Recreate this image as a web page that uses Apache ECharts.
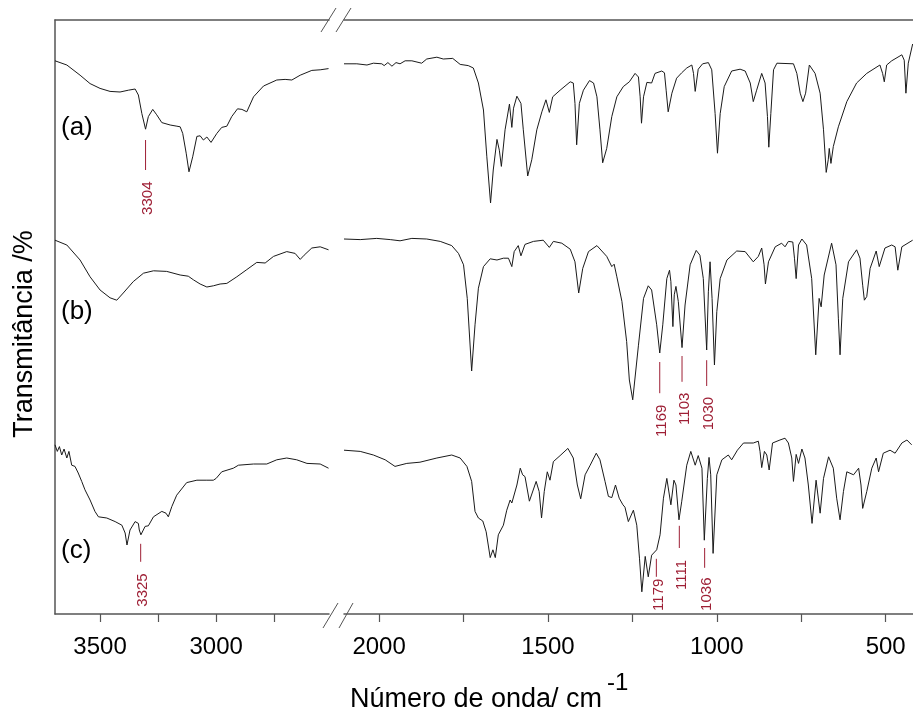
<!DOCTYPE html>
<html>
<head>
<meta charset="utf-8">
<script src="https://cdn.jsdelivr.net/npm/echarts@6/dist/echarts.min.js"></script>
<style>
html, body { margin: 0; padding: 0; background: #fff; }
#ftir { width: 913px; height: 718px; }
</style>
</head>
<body>
<div id="ftir"></div>
<script>
// espectros: [numero de onda, transmitancia (escala relativa, deslocada)]
var specA_hi = [[3694,92.2],[3643,91.5],[3586,89.8],[3543,88.4],[3500,87.6],[3457,87.1],[3414,87.0],[3378,87.3],[3349,87.5],[3335,86.5],[3320,83.4],[3304,80.8],[3292,82.9],[3273,84.1],[3256,83.2],[3234,81.9],[3198,81.5],[3169,81.3],[3155,81.2],[3144,80.1],[3129,76.8],[3117,73.7],[3101,76.2],[3083,79.6],[3069,79.7],[3055,79.0],[3040,79.5],[3022,78.6],[2997,80.1],[2976,81.1],[2954,81.3],[2933,82.9],[2908,84.2],[2889,84.1],[2868,83.7],[2839,86.2],[2796,88.0],[2739,89.0],[2703,89.1],[2674,89.0],[2638,89.8],[2588,90.6],[2552,90.7],[2516,90.9]];
var specA_lo = [[2104,91.7],[2066,91.7],[2036,91.5],[2017,91.8],[1992,91.7],[1985,91.4],[1974,91.9],[1962,91.3],[1950,91.9],[1938,91.7],[1923,92.2],[1903,92.2],[1874,91.8],[1859,92.5],[1829,92.8],[1810,92.5],[1782,92.6],[1760,91.6],[1736,91.4],[1721,91.0],[1706,88.5],[1691,84.0],[1681,76.2],[1670,68.5],[1662,74.0],[1651,79.1],[1644,77.3],[1638,74.6],[1627,80.7],[1614,85.0],[1607,81.1],[1602,84.3],[1592,86.3],[1580,85.1],[1573,80.7],[1560,73.0],[1548,75.7],[1533,80.7],[1518,83.7],[1506,85.7],[1496,83.6],[1486,86.2],[1464,87.3],[1434,88.7],[1425,88.5],[1420,85.1],[1415,78.2],[1407,85.1],[1395,87.3],[1377,88.9],[1365,88.5],[1355,86.2],[1346,80.7],[1338,75.2],[1326,77.6],[1311,82.9],[1296,86.2],[1277,87.9],[1259,88.7],[1242,90.1],[1232,89.5],[1227,86.2],[1223,81.8],[1217,86.2],[1207,88.6],[1193,88.5],[1183,90.1],[1163,90.5],[1155,90.2],[1150,87.3],[1144,83.7],[1133,86.8],[1119,89.3],[1104,90.2],[1089,91.0],[1074,91.5],[1069,90.1],[1064,87.1],[1055,90.8],[1042,91.7],[1025,91.9],[1015,90.7],[1005,83.4],[998,76.8],[990,83.4],[978,87.9],[956,90.5],[931,90.8],[916,90.5],[901,88.5],[892,85.4],[882,87.3],[867,90.1],[857,88.5],[850,82.9],[846,77.8],[840,83.4],[832,90.7],[822,91.8],[773,91.7],[763,90.1],[753,86.8],[745,85.4],[737,86.8],[726,91.5],[709,90.1],[694,86.8],[684,80.7],[676,73.6],[670,75.7],[667,77.6],[662,75.1],[655,77.9],[640,81.2],[615,85.4],[586,88.5],[556,90.1],[517,91.5],[509,90.1],[504,88.7],[497,91.5],[482,92.2],[452,93.2],[445,92.3],[440,86.8],[433,91.8],[420,95.0]];

var specB_hi = [[3694,62.3],[3643,61.5],[3586,59.0],[3543,56.2],[3500,54.0],[3457,52.7],[3428,52.3],[3400,53.5],[3357,55.4],[3313,56.8],[3270,57.2],[3213,57.1],[3155,56.5],[3120,56.3],[3098,55.7],[3069,55.0],[3040,54.5],[3012,54.7],[2983,55.0],[2954,55.1],[2911,56.2],[2868,57.4],[2825,58.6],[2789,58.5],[2753,59.6],[2696,60.4],[2660,60.1],[2638,59.1],[2621,59.8],[2588,61.0],[2552,61.2],[2516,60.7]];
var specB_lo = [[2104,62.5],[2056,62.4],[2007,62.6],[1967,62.4],[1938,62.2],[1903,62.6],[1859,62.5],[1819,62.1],[1785,61.4],[1765,60.1],[1750,58.2],[1739,52.6],[1726,40.5],[1716,48.2],[1706,54.3],[1691,57.9],[1671,59.2],[1651,59.0],[1632,59.3],[1617,59.3],[1607,57.9],[1600,60.4],[1588,61.4],[1580,59.7],[1568,61.6],[1543,62.1],[1514,62.3],[1496,61.1],[1484,62.1],[1459,61.8],[1434,60.8],[1420,58.7],[1409,53.5],[1397,57.6],[1380,60.4],[1355,61.4],[1326,59.6],[1311,57.9],[1304,58.3],[1296,56.2],[1281,52.1],[1267,45.4],[1259,39.0],[1249,35.7],[1232,44.8],[1217,52.6],[1203,54.7],[1193,54.0],[1178,48.2],[1169,43.5],[1160,48.2],[1148,55.9],[1140,57.3],[1136,55.4],[1130,47.9],[1126,53.2],[1121,54.6],[1114,52.1],[1103,44.4],[1094,51.5],[1079,58.2],[1061,60.6],[1050,59.8],[1040,55.9],[1030,44.0],[1025,53.7],[1020,58.7],[1014,52.6],[1007,41.5],[1000,50.4],[990,55.9],[970,59.0],[941,60.5],[916,60.4],[892,58.7],[877,59.6],[867,61.0],[860,58.2],[856,55.0],[847,58.7],[827,61.2],[808,61.8],[798,61.2],[788,62.1],[775,62.0],[770,59.3],[765,55.9],[758,61.5],[748,62.5],[734,61.5],[719,55.9],[707,43.2],[697,52.6],[691,51.2],[682,56.5],[660,61.8],[647,58.2],[640,49.3],[635,43.2],[627,52.6],[610,58.7],[586,60.7],[576,59.3],[568,54.8],[563,52.3],[556,52.9],[546,57.6],[528,60.5],[519,57.9],[502,61.0],[482,61.5],[472,61.2],[464,57.3],[452,61.2],[420,62.3]];

var specC_hi = [[3694,28.2],[3684,27.1],[3675,27.9],[3665,26.5],[3655,27.5],[3643,26.0],[3634,27.1],[3622,24.8],[3608,24.6],[3594,23.5],[3579,22.1],[3565,20.7],[3543,19.0],[3522,17.1],[3507,16.2],[3471,16.0],[3435,15.4],[3406,14.8],[3392,13.5],[3384,11.5],[3371,14.0],[3349,15.4],[3335,15.1],[3331,14.0],[3324,13.2],[3306,14.6],[3292,14.7],[3270,16.2],[3234,17.1],[3216,16.8],[3206,16.2],[3191,17.9],[3170,19.8],[3127,21.9],[3083,22.3],[3040,22.3],[3012,22.3],[3000,22.6],[2976,23.7],[2926,24.3],[2904,24.8],[2839,25.0],[2782,25.0],[2739,25.7],[2696,26.0],[2653,25.7],[2609,25.1],[2552,25.0],[2516,24.3]];
var specC_lo = [[2104,27.3],[2056,27.1],[2017,26.5],[1982,25.7],[1953,24.6],[1918,25.1],[1879,25.3],[1829,26.0],[1785,26.5],[1760,26.0],[1740,24.6],[1726,22.1],[1716,17.1],[1706,16.0],[1693,15.5],[1683,13.7],[1671,9.4],[1663,10.7],[1656,9.4],[1647,13.2],[1632,14.8],[1622,17.3],[1612,19.0],[1607,18.5],[1592,21.5],[1582,24.3],[1575,23.2],[1568,22.9],[1555,18.8],[1535,22.1],[1526,20.4],[1519,16.0],[1511,20.4],[1502,23.7],[1494,22.3],[1484,25.4],[1464,26.4],[1441,27.6],[1425,26.0],[1413,21.5],[1403,19.2],[1390,23.2],[1375,24.8],[1357,26.8],[1346,25.7],[1331,22.1],[1321,19.6],[1311,19.4],[1300,21.5],[1289,19.3],[1278,18.2],[1272,17.8],[1262,15.4],[1247,17.3],[1237,14.8],[1229,9.3],[1222,3.7],[1212,9.6],[1203,6.2],[1193,9.8],[1178,10.7],[1168,13.2],[1158,19.3],[1148,22.6],[1136,18.2],[1127,22.3],[1121,21.5],[1112,15.7],[1104,18.7],[1089,24.8],[1077,27.1],[1064,24.8],[1055,26.4],[1044,24.3],[1037,12.3],[1028,22.6],[1023,26.1],[1018,23.2],[1011,10.1],[1000,23.2],[985,25.7],[966,26.5],[956,25.7],[939,27.3],[921,28.5],[892,28.5],[877,28.8],[872,27.1],[867,24.4],[859,27.1],[852,26.5],[845,24.0],[835,28.5],[813,29.0],[798,29.3],[788,28.5],[778,26.0],[773,22.1],[765,26.6],[758,25.1],[748,27.5],[739,26.0],[729,21.5],[718,15.1],[706,22.3],[694,16.8],[684,22.6],[669,26.2],[655,24.3],[645,19.3],[635,15.7],[625,20.4],[615,23.7],[595,23.2],[580,24.3],[573,21.5],[568,17.6],[556,20.4],[541,24.3],[528,26.0],[521,23.7],[507,26.8],[487,27.3],[472,26.8],[452,28.5],[437,29.0],[423,28.2]];

// marcacoes de bandas: [numero de onda, topo do traco, base do traco, centro do texto]
var annoHi = [[3304,79.0,74.0,69.3],[3325,11.7,8.7,4.0]];
var annoHiText = ['3304', '3325'];
var annoLo = [[1169,42.0,36.8,32.2],[1103,43.0,38.7,34.2],[1030,42.3,38.0,33.4],[1179,9.2,6.2,3.2],[1111,14.7,11.0,6.5],[1036,11.0,7.7,3.3]];
var annoLoText = ['1169', '1103', '1030', '1179', '1111', '1036'];

var ticksHi = [3500, 3250, 3000, 2750];
var labelsHi = [3500, 3000];
var ticksLo = [2000, 1750, 1500, 1250, 1000, 750, 500];
var labelsLo = [2000, 1500, 1000, 500];

var FONT = 'Arial, "Liberation Sans", sans-serif';
var AXIS = '#555';
var RED = '#9e1f35';
var INK = '#1a1a1a';

function bottomAxis(idx, min, max, ticks, labels) {
    return {
        type: 'value', gridIndex: idx, position: 'bottom', inverse: true,
        min: min, max: max,
        axisLine: { show: true, onZero: false, lineStyle: { color: AXIS, width: 1.5 } },
        axisTick: { show: true, inside: false, length: 8, customValues: ticks, lineStyle: { color: AXIS, width: 1.2 } },
        axisLabel: {
            show: true, margin: 21, customValues: labels, color: '#000', fontSize: 24, fontFamily: FONT,
            formatter: function (v) { return String(v); }
        },
        splitLine: { show: false }
    };
}
function topAxis(idx, min, max) {
    return {
        type: 'value', gridIndex: idx, position: 'top', inverse: true,
        min: min, max: max,
        axisLine: { show: true, onZero: false, lineStyle: { color: AXIS, width: 1.5 } },
        axisTick: { show: false }, axisLabel: { show: false }, splitLine: { show: false }
    };
}
function curve(idx, data) {
    return {
        type: 'line', xAxisIndex: idx * 2, yAxisIndex: idx, data: data,
        symbol: 'none', smooth: false, silent: true,
        lineStyle: { color: INK, width: 1 }
    };
}
function marks(idx, data, texts) {
    return {
        type: 'custom', xAxisIndex: idx * 2, yAxisIndex: idx, data: data, silent: true,
        renderItem: function (params, api) {
            var wn = api.value(0);
            var p1 = api.coord([wn, api.value(1)]);
            var p2 = api.coord([wn, api.value(2)]);
            var pt = api.coord([wn, api.value(3)]);
            return {
                type: 'group',
                children: [{
                    type: 'line',
                    shape: { x1: p1[0], y1: p1[1], x2: p2[0], y2: p2[1] },
                    style: { stroke: RED, lineWidth: 1 }
                }, {
                    type: 'text', x: pt[0] + 2.5, y: pt[1], rotation: Math.PI / 2,
                    style: { text: texts[params.dataIndex], fill: RED, fontSize: 15, fontFamily: FONT, align: 'center', verticalAlign: 'middle' }
                }]
            };
        }
    };
}
function slash(x1, y1, x2, y2) {
    return { type: 'line', shape: { x1: x1, y1: y1, x2: x2, y2: y2 }, style: { stroke: AXIS, lineWidth: 1 }, silent: true };
}
function txt(x, y, s, size, align, rot) {
    return {
        type: 'text', x: x, y: y, rotation: rot || 0, silent: true,
        style: { text: s, fill: '#000', fontSize: size, fontFamily: FONT, align: align || 'left', verticalAlign: 'middle' }
    };
}

var chart = echarts.init(document.getElementById('ftir'));
var option = {
    animation: false,
    backgroundColor: '#fff',
    grid: [
        { left: 55, top: 20, width: 274, height: 594 },
        { left: 344, top: 20, width: 569, height: 594 }
    ],
    xAxis: [
        bottomAxis(0, 2514, 3694, ticksHi, labelsHi),
        topAxis(0, 2514, 3694),
        bottomAxis(1, 419, 2104, ticksLo, labelsLo),
        topAxis(1, 419, 2104)
    ],
    yAxis: [
        { type: 'value', gridIndex: 0, min: 0, max: 99,
          axisLine: { show: true, lineStyle: { color: AXIS, width: 1.5 } },
          axisTick: { show: false }, axisLabel: { show: false }, splitLine: { show: false } },
        { type: 'value', gridIndex: 1, min: 0, max: 99, show: false, splitLine: { show: false } }
    ],
    series: [
        curve(0, specA_hi), curve(0, specB_hi), curve(0, specC_hi),
        curve(1, specA_lo), curve(1, specB_lo), curve(1, specC_lo),
        marks(0, annoHi, annoHiText), marks(1, annoLo, annoLoText)
    ],
    graphic: [
        slash(321, 32, 336, 8), slash(336, 32, 351, 8),
        slash(323, 628, 338, 603), slash(339, 628, 353, 603),
        txt(61, 128, '(a)', 26), txt(61, 312, '(b)', 26), txt(61, 551, '(c)', 26),
        txt(25, 334, 'Transmitância /%', 27, 'center', Math.PI / 2),
        txt(476, 700, 'Número de onda/ cm', 27, 'center'),
        txt(607, 683, '-1', 24)
    ]
};
chart.setOption(option);
window.addEventListener('resize', chart.resize);
</script>
</body>
</html>
